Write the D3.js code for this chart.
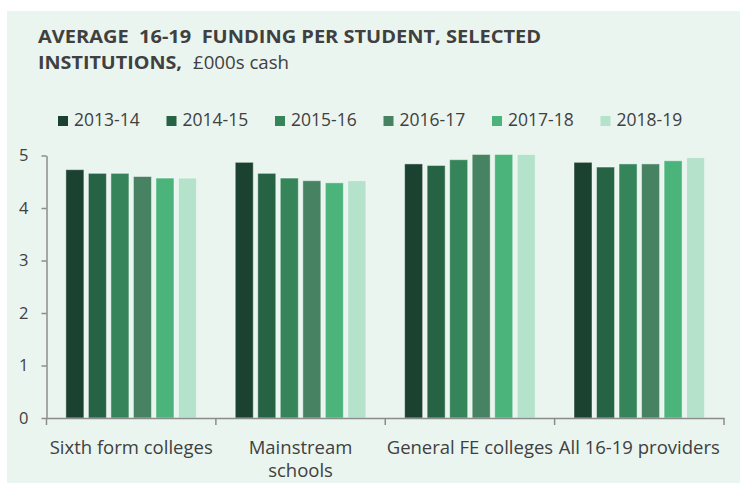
<!DOCTYPE html>
<html>
<head>
<meta charset="utf-8">
<script src="https://cdn.jsdelivr.net/npm/d3@7"></script>
<style>
  body { margin: 0; background: #fff; }
  text { font-family: 'Open Sans', sans-serif; fill: #404040; }
</style>
</head>
<body>
<div id="chart"></div>
<script>
// Data
const categories = [['Sixth form colleges'], ['Mainstream', 'schools'], ['General FE colleges'], ['All 16-19 providers']];
const years = ['2013-14', '2014-15', '2015-16', '2016-17', '2017-18', '2018-19'];
const sixthForm = [4.73, 4.66, 4.66, 4.60, 4.57, 4.57];
const mainstream = [4.87, 4.66, 4.57, 4.52, 4.48, 4.52];
const generalFE = [4.84, 4.81, 4.92, 5.02, 5.02, 5.02];
const allProviders = [4.87, 4.78, 4.84, 4.84, 4.90, 4.96];
const yTicks = [0, 1, 2, 3, 4, 5];
const colours = ['#1b4230', '#266244', '#35845a', '#478262', '#4ab47b', '#b4e2cb'];

const series = [sixthForm, mainstream, generalFE, allProviders];
const rows = categories.map((c, i) => ({ key: c.join(' '), lines: c, values: series[i] }));

const W = 740;
const H = 485;
const margin = { l: 46.5, r: 16, t: 155.5, b: 67 };

const svg = d3.select('#chart').append('svg').attr('width', W).attr('height', H);

// panel background
svg.append('rect').attr('x', 7).attr('y', 11).attr('width', W - 7).attr('height', H - 13).attr('fill', '#eaf5f0');

// title
svg.append('text')
  .attr('x', 38).attr('y', 43)
  .attr('font-size', 18).attr('font-weight', 700)
  .attr('textLength', 503).attr('lengthAdjust', 'spacingAndGlyphs')
  .text('AVERAGE\u00a0 16-19\u00a0 FUNDING PER STUDENT, SELECTED');
svg.append('text')
  .attr('x', 38).attr('y', 69)
  .attr('font-size', 18).attr('font-weight', 700)
  .attr('textLength', 144).attr('lengthAdjust', 'spacingAndGlyphs')
  .text('INSTITUTIONS,');
svg.append('text')
  .attr('x', 193).attr('y', 69)
  .attr('font-size', 18)
  .attr('textLength', 96).attr('lengthAdjust', 'spacingAndGlyphs')
  .text('£000s cash');

// legend
const legend = svg.append('g').selectAll('g').data(years).join('g')
  .attr('transform', (d, i) => `translate(${58 + i * 108.5}, 116)`);
legend.append('rect').attr('width', 10).attr('height', 10).attr('fill', (d, i) => colours[i]);
legend.append('text').attr('x', 16).attr('y', 10).attr('font-size', 17.5).text((d) => d);

// scales
const xScale = d3.scaleBand(rows.map((d) => d.key), [margin.l, W - margin.r]);
const xInner = d3.scaleBand(years, [0, xScale.bandwidth()]).paddingInner(0.2).paddingOuter(0.86);
const yScale = d3.scaleLinear([0, 5], [H - margin.b, margin.t]);
const colour = d3.scaleOrdinal(years, colours);

// bars
svg.append('g').selectAll('g').data(rows).join('g')
  .attr('transform', (d) => `translate(${xScale(d.key)}, 0)`)
  .selectAll('rect')
  .data((d) => d.values.map((v, i) => ({ year: years[i], v })))
  .join('rect')
  .attr('x', (d) => xInner(d.year))
  .attr('y', (d) => yScale(d.v))
  .attr('width', xInner.bandwidth())
  .attr('height', (d) => yScale(0) - yScale(d.v))
  .attr('fill', (d) => colour(d.year))
  .attr('stroke', 'rgba(255,255,255,0.45)')
  .attr('stroke-width', 1);

// y axis
const yAxis = svg.append('g')
  .attr('transform', `translate(${margin.l}, 0)`)
  .call(d3.axisLeft(yScale).tickValues(yTicks).tickFormat(d3.format('d'))
    .tickSizeInner(5).tickSizeOuter(0).tickPadding(13));
yAxis.selectAll('text').attr('font-size', 16.5).attr('font-family', null).style('fill', '#404040');

// x axis with boundary ticks
const xAxis = svg.append('g')
  .attr('transform', `translate(0, ${yScale(0)})`)
  .call(d3.axisBottom(xScale).tickSize(0).tickFormat(''));
xAxis.selectAll('.tick line').remove();
const bounds = rows.map((d) => xScale(d.key)).concat([xScale.range()[1]]);
xAxis.selectAll('.bound').data(bounds).join('line')
  .attr('class', 'bound')
  .attr('x1', (d) => d).attr('x2', (d) => d)
  .attr('y1', 0).attr('y2', 7)
  .attr('stroke', '#8c8c8c');

svg.selectAll('.domain, .tick line').attr('stroke', '#8c8c8c').attr('stroke-width', 1.5);
xAxis.selectAll('.bound').attr('stroke-width', 1.5);

// x labels
svg.append('g').selectAll('text').data(rows).join('text')
  .attr('text-anchor', 'middle')
  .attr('font-size', 18.5)
  .attr('x', (d) => xScale(d.key) + xScale.bandwidth() / 2)
  .attr('y', 453.5)
  .selectAll('tspan')
  .data((d) => d.lines)
  .join('tspan')
  .attr('x', function () { return d3.select(this.parentNode).attr('x'); })
  .attr('dy', (d, i) => (i === 0 ? 0 : 23))
  .text((d) => d);
</script>
</body>
</html>
